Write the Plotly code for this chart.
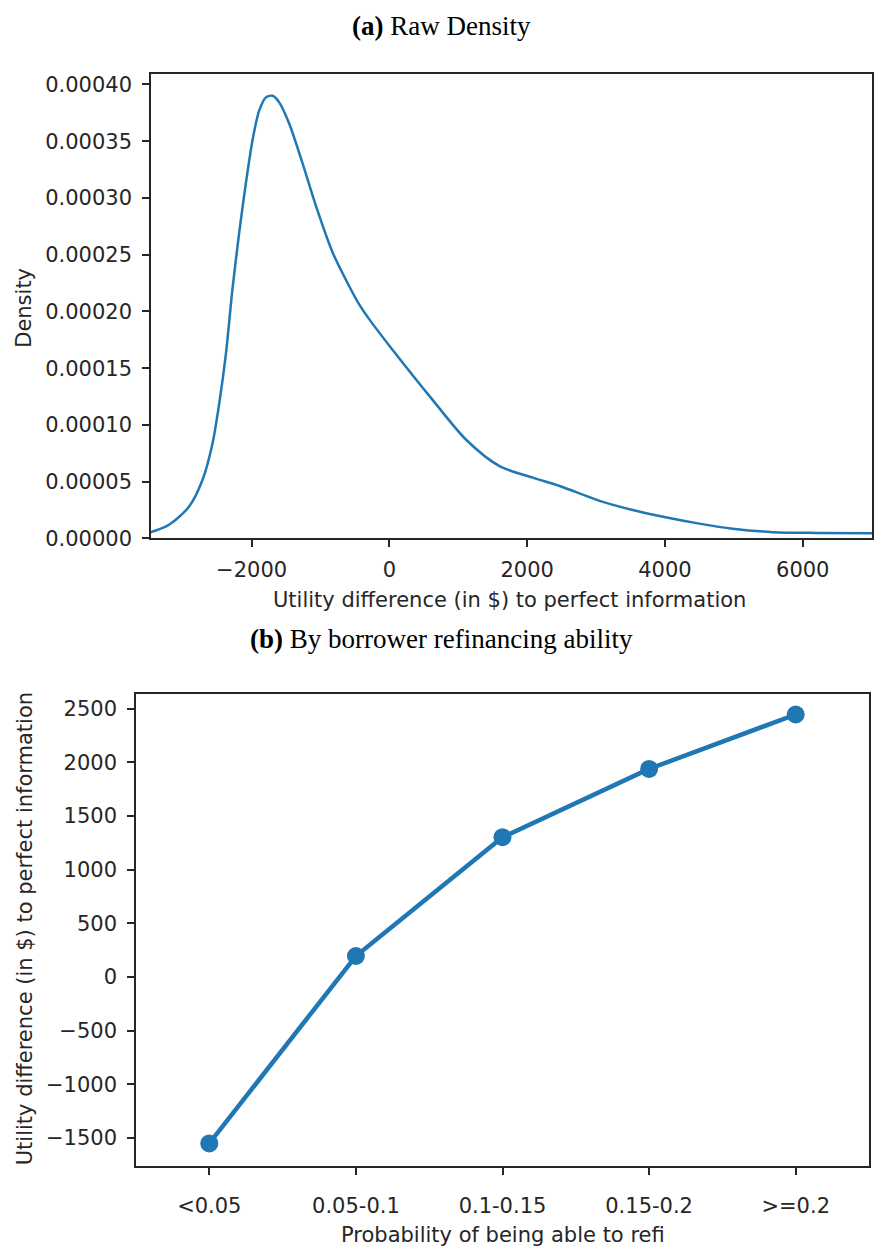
import plotly.graph_objects as go

# ---- data ----
density_x = [-3488, -3198, -2907, -2713, -2568, -2471, -2374, -2277, -2180, -2083,
             -1987, -1890, -1792, -1696, -1599, -1453, -1260, -1066, -824, -581,
             -436, -291, 48, 630, 1114, 1599, 2083, 2471, 3052, 3500, 4007, 4500,
             4985, 5567, 6200, 7005]
density_y = [0.0000050, 0.0000120, 0.0000280, 0.0000514, 0.0000834, 0.0001183,
             0.0001619, 0.0002200, 0.0002694, 0.0003130, 0.0003507, 0.0003769,
             0.0003886, 0.0003900, 0.0003842, 0.0003653, 0.0003304, 0.0002930,
             0.0002520, 0.0002220, 0.0002060, 0.0001930, 0.0001660, 0.0001218,
             0.0000869, 0.0000636, 0.0000535, 0.0000462, 0.0000331, 0.0000255,
             0.0000186, 0.0000130, 0.0000085, 0.0000055, 0.0000048, 0.0000046]

categories = ["<0.05", "0.05-0.1", "0.1-0.15", "0.15-0.2", ">=0.2"]
utility_diff = [-1549, 196, 1302, 1938, 2445]

title_a = "<b>(a)</b> Raw Density"
title_b = "<b>(b)</b> By borrower refinancing ability"
xlabel_a = "Utility difference (in $) to perfect information"
ylabel_a = "Density"
xlabel_b = "Probability of being able to refi"
ylabel_b = "Utility difference (in $) to perfect information"

W, H = 875, 1257
BLUE = "#1f77b4"
AX = "#262626"
FONT = "DejaVu Sans"
FS = 21

fig = go.Figure()
fig.add_trace(go.Scatter(x=density_x, y=density_y, mode="lines",
                         line=dict(color=BLUE, width=2.5, shape="spline", smoothing=0.8),
                         xaxis="x", yaxis="y", showlegend=False))
fig.add_trace(go.Scatter(x=categories, y=utility_diff, mode="lines+markers",
                         line=dict(color=BLUE, width=4.5),
                         marker=dict(color=BLUE, size=18),
                         xaxis="x2", yaxis="y2", showlegend=False))

def px_x(p):
    return p / W

def px_y(p):
    return 1 - p / H

common = dict(showline=True, linecolor=AX, linewidth=1.5, mirror=True,
              ticks="outside", ticklen=7, tickwidth=1.5, tickcolor=AX,
              showgrid=False, zeroline=False,
              tickfont=dict(family=FONT, size=FS, color=AX))

fig.update_layout(
    width=W, height=H,
    margin=dict(l=0, r=0, t=0, b=0),
    paper_bgcolor="white", plot_bgcolor="white",
    xaxis=dict(domain=[px_x(151), px_x(872)], range=[-3460, 7005],
               tickvals=[-2000, 0, 2000, 4000, 6000], anchor="y",
               ticklabelstandoff=5, **common),
    yaxis=dict(domain=[px_y(543), px_y(74)], range=[0, 0.000409],
               tickvals=[0, 0.00005, 0.0001, 0.00015, 0.0002, 0.00025, 0.0003, 0.00035, 0.0004],
               tickformat=".5f", anchor="x", ticklabelstandoff=6, **common),
    xaxis2=dict(domain=[px_x(136), px_x(869)], range=[-0.5, 4.5],
                type="category", anchor="y2", ticklabelstandoff=13, **common),
    yaxis2=dict(domain=[px_y(1177), px_y(700)], range=[-1758, 2638],
                tickvals=[-1500, -1000, -500, 0, 500, 1000, 1500, 2000, 2500],
                anchor="x2", ticklabelstandoff=6, **common),
)

ann = []
serif = dict(family="Liberation Serif", size=27, color="black")
ann.append(dict(text=title_a, x=px_x(441), y=px_y(25), xref="paper", yref="paper",
                showarrow=False, font=serif, xanchor="center", yanchor="middle"))
ann.append(dict(text=title_b, x=px_x(441), y=px_y(645), xref="paper", yref="paper",
                showarrow=False, font=serif, xanchor="center", yanchor="middle"))
lab = dict(family=FONT, size=FS, color=AX)
ann.append(dict(text=xlabel_a, x=px_x(509), y=px_y(605), xref="paper", yref="paper",
                showarrow=False, font=lab, xanchor="center", yanchor="middle"))
ann.append(dict(text=ylabel_a, x=px_x(24), y=px_y(310), xref="paper", yref="paper",
                showarrow=False, font=lab, textangle=-90, xanchor="center", yanchor="middle"))
ann.append(dict(text=xlabel_b, x=px_x(503), y=px_y(1247), xref="paper", yref="paper",
                showarrow=False, font=lab, xanchor="center", yanchor="middle"))
ann.append(dict(text=ylabel_b, x=px_x(25), y=px_y(938), xref="paper", yref="paper",
                showarrow=False, font=lab, textangle=-90, xanchor="center", yanchor="middle"))
fig.update_layout(annotations=ann)

fig.write_html("out.html")
